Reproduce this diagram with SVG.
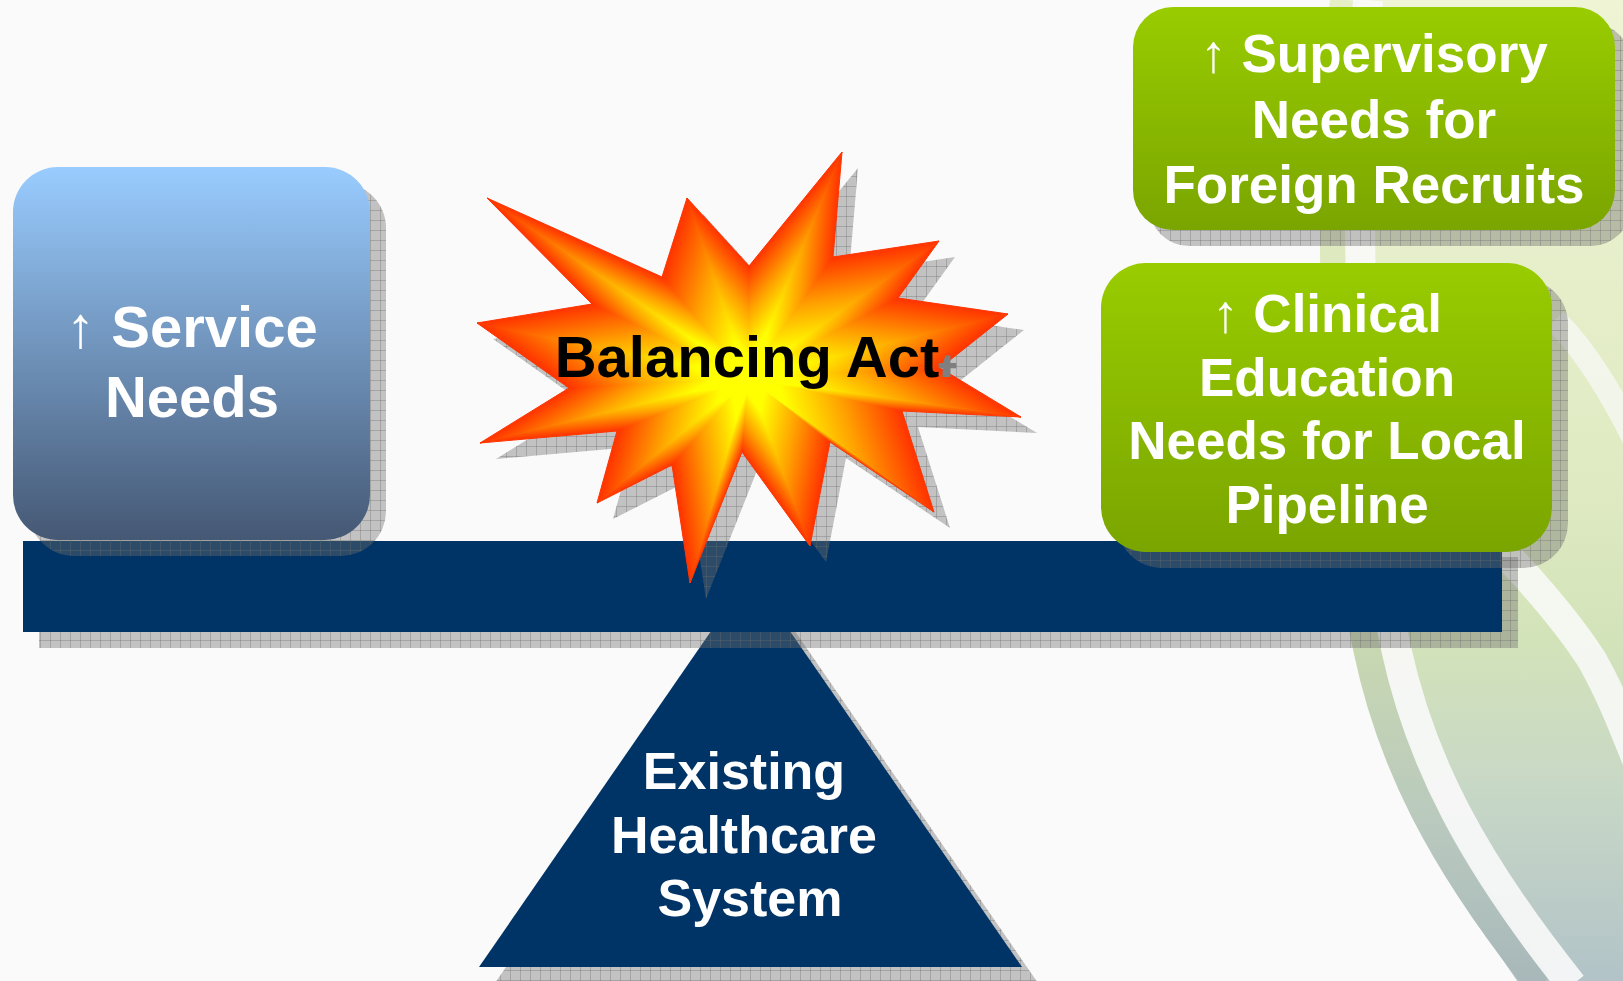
<svg xmlns="http://www.w3.org/2000/svg" width="1623" height="981" viewBox="0 0 1623 981">
<style>
.t{font-family:"Liberation Sans",Arial,sans-serif;font-weight:bold;fill:#fff;text-anchor:middle}
.ar{font-weight:normal}
.sh{fill:url(#shp)}
.st{stroke-width:1;stroke-linejoin:round}
</style>
<defs>
<pattern id="shp" width="10" height="10" patternUnits="userSpaceOnUse">
<rect width="10" height="10" fill="#6e6e6e" fill-opacity="0.4"/>
<path d="M0 0.5H10M0.5 0V10" stroke="#6a6a6a" stroke-opacity="0.35" stroke-width="1"/>
</pattern>
<linearGradient id="leaf" gradientUnits="userSpaceOnUse" x1="0" y1="0" x2="0" y2="981">
<stop offset="0" stop-color="#eef4d4"/><stop offset="0.5" stop-color="#dfeac2"/><stop offset="0.65" stop-color="#d3e3b9"/><stop offset="0.8" stop-color="#c8d8c6"/><stop offset="1" stop-color="#b2c3c8"/>
</linearGradient>
<linearGradient id="band" gradientUnits="userSpaceOnUse" x1="0" y1="0" x2="0" y2="981">
<stop offset="0" stop-color="#e6eec8"/><stop offset="0.5" stop-color="#d6e4b8"/><stop offset="0.66" stop-color="#c8d8b2"/><stop offset="0.85" stop-color="#b8c8be"/><stop offset="1" stop-color="#a8b8ba"/>
</linearGradient>
<linearGradient id="blueG" x1="0" y1="0" x2="0" y2="1">
<stop offset="0" stop-color="#99ccff"/><stop offset="1" stop-color="#455874"/>
</linearGradient>
<linearGradient id="greenG" x1="0" y1="0" x2="0" y2="1">
<stop offset="0" stop-color="#99cc00"/><stop offset="1" stop-color="#7aa500"/>
</linearGradient>
<linearGradient id="sg"><stop offset="0" stop-color="#ffff00"/><stop offset="0.2" stop-color="#ffff00"/><stop offset="0.6" stop-color="#ffa000"/><stop offset="1" stop-color="#ff3300"/></linearGradient>
<linearGradient id="g1" href="#sg" gradientUnits="userSpaceOnUse" x1="748" y1="378" x2="771.3" y2="326.4"/>
<linearGradient id="g2" href="#sg" gradientUnits="userSpaceOnUse" x1="748" y1="378" x2="640.8" y2="344.1"/>
<linearGradient id="g3" href="#sg" gradientUnits="userSpaceOnUse" x1="748" y1="378" x2="804.3" y2="326.7"/>
<linearGradient id="g4" href="#sg" gradientUnits="userSpaceOnUse" x1="748" y1="378" x2="693.7" y2="333.7"/>
<linearGradient id="g5" href="#sg" gradientUnits="userSpaceOnUse" x1="748" y1="378" x2="822.1" y2="384.4"/>
<linearGradient id="g6" href="#sg" gradientUnits="userSpaceOnUse" x1="748" y1="378" x2="732" y2="272.2"/>
<linearGradient id="g7" href="#sg" gradientUnits="userSpaceOnUse" x1="748" y1="378" x2="808.9" y2="421.8"/>
<linearGradient id="g8" href="#sg" gradientUnits="userSpaceOnUse" x1="748" y1="378" x2="762.5" y2="278.3"/>
<linearGradient id="g9" href="#sg" gradientUnits="userSpaceOnUse" x1="748" y1="378" x2="817.4" y2="465.4"/>
<linearGradient id="g10" href="#sg" gradientUnits="userSpaceOnUse" x1="748" y1="378" x2="803.9" y2="285.6"/>
<linearGradient id="g11" href="#sg" gradientUnits="userSpaceOnUse" x1="748" y1="378" x2="746.7" y2="403.2"/>
<linearGradient id="g12" href="#sg" gradientUnits="userSpaceOnUse" x1="748" y1="378" x2="878.4" y2="336.7"/>
<linearGradient id="g13" href="#sg" gradientUnits="userSpaceOnUse" x1="748" y1="378" x2="743.9" y2="384.1"/>
<linearGradient id="g14" href="#sg" gradientUnits="userSpaceOnUse" x1="748" y1="378" x2="838.9" y2="395.5"/>
<linearGradient id="g15" href="#sg" gradientUnits="userSpaceOnUse" x1="748" y1="378" x2="708.9" y2="406.3"/>
<linearGradient id="g16" href="#sg" gradientUnits="userSpaceOnUse" x1="748" y1="378" x2="768.2" y2="386"/>
<linearGradient id="g17" href="#sg" gradientUnits="userSpaceOnUse" x1="748" y1="378" x2="660.8" y2="391.3"/>
<linearGradient id="g18" href="#sg" gradientUnits="userSpaceOnUse" x1="748" y1="378" x2="767.6" y2="416.6"/>
<linearGradient id="g19" href="#sg" gradientUnits="userSpaceOnUse" x1="748" y1="378" x2="640.1" y2="348"/>
<linearGradient id="g20" href="#sg" gradientUnits="userSpaceOnUse" x1="748" y1="378" x2="751.6" y2="419.2"/>
<linearGradient id="g21" href="#sg" gradientUnits="userSpaceOnUse" x1="748" y1="378" x2="703" y2="305.2"/>
<linearGradient id="g22" href="#sg" gradientUnits="userSpaceOnUse" x1="748" y1="378" x2="683.7" y2="469"/>
<linearGradient id="g23" href="#sg" gradientUnits="userSpaceOnUse" x1="748" y1="378" x2="732" y2="280.9"/>
<linearGradient id="g24" href="#sg" gradientUnits="userSpaceOnUse" x1="748" y1="378" x2="706.3" y2="419.3"/>
<polygon id="starShape" points="487,198 662,277 687,198 749,266 842,152 833,257 939,241 898,298 1008,314 940,368 1021,417 902,411 934,512 830,442 810,546 742,452 690,583 672,465 597,503 617,431 480,443 569,388 477,323 592,304"/>
<clipPath id="tclip"><rect x="900" y="300" width="80" height="77"/></clipPath>
</defs>

<rect width="1623" height="981" fill="#fafafa"/>

<g id="decor" fill="none">
<path d="M1330,0 C1312,200 1318,480 1353,648 C1375,750 1420,840 1520,985 L1623,985 L1623,0 Z" fill="url(#leaf)"/>
<path d="M1344,0 C1326,200 1332,480 1367,648 C1390,760 1440,860 1540,985" stroke="url(#band)" stroke-width="28"/>
<path d="M1368,0 C1352,200 1360,480 1396,648 C1420,760 1472,860 1572,985" stroke="#fafafa" stroke-width="30" opacity="0.9"/>
<path d="M1460,510 C1500,545 1560,610 1592,660 C1612,695 1625,730 1645,780" stroke="#fafafa" stroke-width="30" opacity="0.85"/>
<path d="M1555,320 C1585,350 1610,390 1640,450" stroke="#fafafa" stroke-width="24" opacity="0.7"/>
</g>

<g id="fulcrum">
<polygon class="sh" points="766.5,590 495,983 1038,983"/>
<polygon points="750.5,574 479,967 1022,967" fill="#003366"/>
<text class="t" font-size="52"><tspan x="744" y="789">Existing</tspan><tspan x="744" y="853">Healthcare</tspan><tspan x="750" y="916">System</tspan></text>
</g>

<g id="beam">
<rect class="sh" x="39" y="557" width="1479" height="91"/>
<rect x="23" y="541" width="1479" height="91" fill="#003366"/>
</g>

<g id="service-needs">
<rect class="sh" x="29" y="183" width="357" height="373" rx="45"/>
<rect x="13" y="167" width="357" height="373" rx="45" fill="url(#blueG)"/>
<text class="t" font-size="58"><tspan x="192" y="347"><tspan class="ar">↑</tspan> Service</tspan><tspan x="192" y="417">Needs</tspan></text>
</g>

<g id="supervisory-needs">
<rect class="sh" x="1149" y="23" width="482" height="223" rx="40"/>
<rect x="1133" y="7" width="482" height="223" rx="40" fill="url(#greenG)"/>
<text class="t" font-size="53"><tspan x="1374" y="72"><tspan class="ar">↑</tspan> Supervisory</tspan><tspan x="1374" y="138">Needs for</tspan><tspan x="1374" y="203">Foreign Recruits</tspan></text>
</g>

<g id="clinical-education-needs">
<rect class="sh" x="1117" y="279" width="451" height="289" rx="45"/>
<rect x="1101" y="263" width="451" height="289" rx="45" fill="url(#greenG)"/>
<text class="t" font-size="53"><tspan x="1327" y="332"><tspan class="ar">↑</tspan> Clinical</tspan><tspan x="1327" y="396">Education</tspan><tspan x="1327" y="459">Needs for Local</tspan><tspan x="1327" y="523">Pipeline</tspan></text>
</g>

<g id="balancing-act">
<use href="#starShape" class="sh" transform="translate(16,16)"/>
<g class="st">
<polygon points="748,378 487,198 662,277" fill="url(#g1)" stroke="url(#g1)"/>
<polygon points="748,378 662,277 687,198" fill="url(#g2)" stroke="url(#g2)"/>
<polygon points="748,378 687,198 749,266" fill="url(#g3)" stroke="url(#g3)"/>
<polygon points="748,378 749,266 842,152" fill="url(#g4)" stroke="url(#g4)"/>
<polygon points="748,378 842,152 833,257" fill="url(#g5)" stroke="url(#g5)"/>
<polygon points="748,378 833,257 939,241" fill="url(#g6)" stroke="url(#g6)"/>
<polygon points="748,378 939,241 898,298" fill="url(#g7)" stroke="url(#g7)"/>
<polygon points="748,378 898,298 1008,314" fill="url(#g8)" stroke="url(#g8)"/>
<polygon points="748,378 1008,314 940,368" fill="url(#g9)" stroke="url(#g9)"/>
<polygon points="748,378 940,368 1021,417" fill="url(#g10)" stroke="url(#g10)"/>
<polygon points="748,378 1021,417 902,411" fill="url(#g11)" stroke="url(#g11)"/>
<polygon points="748,378 902,411 934,512" fill="url(#g12)" stroke="url(#g12)"/>
<polygon points="748,378 934,512 830,442" fill="url(#g13)" stroke="url(#g13)"/>
<polygon points="748,378 830,442 810,546" fill="url(#g14)" stroke="url(#g14)"/>
<polygon points="748,378 810,546 742,452" fill="url(#g15)" stroke="url(#g15)"/>
<polygon points="748,378 742,452 690,583" fill="url(#g16)" stroke="url(#g16)"/>
<polygon points="748,378 690,583 672,465" fill="url(#g17)" stroke="url(#g17)"/>
<polygon points="748,378 672,465 597,503" fill="url(#g18)" stroke="url(#g18)"/>
<polygon points="748,378 597,503 617,431" fill="url(#g19)" stroke="url(#g19)"/>
<polygon points="748,378 617,431 480,443" fill="url(#g20)" stroke="url(#g20)"/>
<polygon points="748,378 480,443 569,388" fill="url(#g21)" stroke="url(#g21)"/>
<polygon points="748,378 569,388 477,323" fill="url(#g22)" stroke="url(#g22)"/>
<polygon points="748,378 477,323 592,304" fill="url(#g23)" stroke="url(#g23)"/>
<polygon points="748,378 592,304 487,198" fill="url(#g24)" stroke="url(#g24)"/>
</g>
<text x="938" y="393" font-family="Liberation Sans, Arial, sans-serif" font-weight="bold" font-size="58" fill="#7f7f7f" clip-path="url(#tclip)">t</text>
<text x="747" y="377" font-family="Liberation Sans, Arial, sans-serif" font-weight="bold" font-size="58" fill="#000" text-anchor="middle">Balancing Act</text>
</g>
</svg>
